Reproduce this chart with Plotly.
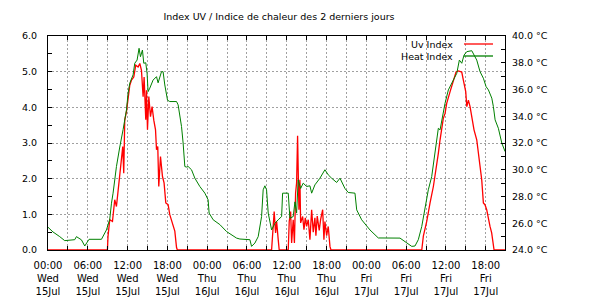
import plotly.graph_objects as go
import pandas as pd

start = "2015-07-15 00:00"
end_hours = 68.9

title_text = "Index UV / Indice de chaleur des 2 derniers jours"
uv_name = "Uv Index"
hi_name = "Heat Index"

# Heat index (deg C) : hours since start, values
hi_hours = [0.0, 0.75, 1.77, 2.52, 4.03, 4.29, 5.04, 5.54, 6.19, 8.06, 8.81, 9.31, 9.57, 9.81,
            10.32, 10.56, 10.82, 11.32, 11.83, 12.07, 12.33, 12.83, 13.08, 13.43, 13.73, 13.94,
            14.24, 14.44, 14.74, 14.94, 15.09, 15.35, 15.84, 16.36, 16.6, 17.11, 17.35, 17.61,
            18.02, 18.36, 19.38, 19.62, 19.87, 20.13, 20.37, 20.63, 20.88, 21.13, 21.64, 22.14,
            22.89, 23.65, 24.14, 24.29, 24.9, 25.91, 26.92, 27.67, 28.43, 28.93, 30.44, 30.69,
            31.19, 31.69, 32.2, 32.44, 32.7, 32.95, 33.2, 33.71, 34.21, 34.71, 35.22, 35.37,
            36.22, 36.47, 36.97, 37.23, 37.48, 37.72, 38.09, 38.48, 38.99, 39.49, 39.75, 40.24,
            41.0, 41.75, 42.25, 42.76, 43.52, 44.02, 44.77, 45.27, 46.28, 46.54, 47.29, 48.54,
            49.8, 53.07, 54.08, 54.84, 55.33, 55.83, 56.35, 56.84, 57.34, 57.85, 58.35, 58.85,
            59.11, 59.36, 59.86, 60.36, 60.87, 61.37, 61.63, 62.02, 62.38, 62.73, 63.14, 63.89,
            64.13, 64.64, 65.14, 65.64, 66.05, 66.4, 66.91, 67.15, 67.41, 67.9, 68.42, 68.91]
hi_values = [25.7, 25.35, 25.0, 24.7, 24.77, 25.0, 24.76, 24.3, 24.8, 24.8, 25.5, 26.3, 27.5, 28.25,
             30.24, 31.0, 31.7, 33.0, 34.47, 35.7, 36.47, 37.1, 37.96, 38.2, 39.08, 38.45,
             38.95, 37.96, 38.0, 37.2, 35.84, 36.1, 36.7, 36.96, 36.5, 37.33, 37.33, 36.34,
             35.2, 35.1, 35.1, 34.85, 34.1, 33.23, 32.0, 30.24, 30.2, 30.24, 30.0, 29.37,
             28.75, 28.25, 27.75, 26.76, 26.26, 25.9, 25.38, 25.14, 24.89, 24.82, 24.77, 24.27,
             24.52, 25.0, 26.5, 28.5, 28.8, 28.5, 26.76, 25.5, 26.0, 26.26, 26.5, 28.25,
             28.25, 26.38, 26.5, 27.6, 26.76, 29.25, 28.6, 29.0, 28.75, 28.8, 28.25, 28.87,
             29.37, 30.0, 29.62, 29.37, 29.05, 29.37, 28.6, 28.3, 28.25, 27.0, 26.26, 25.5,
             24.9, 24.89, 24.52, 24.27, 24.3, 24.77, 25.76, 27.0, 28.5, 29.49, 31.24, 33.1,
             32.98, 33.73, 34.97, 35.97, 36.47, 36.96, 37.21, 38.2, 37.96, 38.58, 38.83, 38.9,
             38.7, 38.2, 37.33, 36.84, 36.21, 35.97, 35.35, 34.72, 33.73, 33.1, 31.99, 31.36]

# UV index : hours since start, values
uv_hours = [0.0, 8.96, 9.05, 9.31, 9.72, 10.06, 10.32, 10.56, 10.82, 11.08, 11.27, 11.42, 11.57,
            11.83, 12.07, 12.33, 12.58, 12.93, 13.23, 13.58, 13.84, 14.09, 14.34, 14.49, 14.74,
            14.85, 15.0, 15.2, 15.45, 15.69, 15.95, 16.21, 16.36, 16.55, 16.7, 16.96, 17.26,
            17.5, 17.76, 18.11, 18.36, 18.77, 19.12, 19.38, 19.5,
            33.71, 33.95, 34.1, 34.31, 34.47, 34.71, 34.86, 36.22, 36.37, 36.58, 36.73, 36.97,
            37.15, 37.33, 37.48, 37.63, 37.72, 37.83, 37.98, 38.09, 38.39, 38.59, 38.79, 38.99,
            39.24, 39.49, 39.75, 39.99, 40.24, 40.39, 40.59, 40.89, 41.1, 41.41, 41.6, 41.75,
            42.01, 42.25, 42.51, 42.66,
            56.35, 56.59, 57.1, 57.34, 57.6, 58.1, 58.61, 58.85, 59.11, 59.36, 59.6, 59.86,
            60.11, 60.62, 61.12, 61.52, 61.87, 62.38, 62.62, 62.98, 63.14, 63.38, 63.63, 63.89,
            64.23, 64.64, 64.89, 65.14, 65.39, 65.64, 65.88, 66.14, 66.38, 66.64, 66.89, 67.15,
            67.25, 68.9]
uv_values = [0.0, 0.0, 0.39, 0.85, 0.8, 1.41, 1.22, 1.6, 2.06, 2.43, 2.9, 2.15, 3.64,
             3.88, 4.2, 4.62, 4.76, 4.85, 5.18, 5.13, 5.23, 5.04, 4.3, 4.85, 3.65,
             4.48, 3.37, 4.3, 3.74, 4.02, 3.64, 3.37, 2.81, 2.9, 1.78, 2.62, 2.06,
             1.88, 1.32, 1.27, 0.99, 0.76, 0.53, 0.07, 0.0,
             0.0, 0.66, 1.08, 0.48, 0.8, 0.29, 0.0, 0.0, 0.8, 1.08, 0.2, 0.85,
             0.2, 1.6, 1.88, 3.2, 2.43, 1.13, 1.97, 0.76, 0.94, 0.57, 0.9, 0.66,
             0.85, 0.29, 1.13, 0.5, 0.9, 0.4, 0.95, 0.55, 0.85, 1.13, 0.29, 0.8,
             0.4, 0.66, 0.1, 0.0,
             0.0, 0.39, 0.8, 1.08, 1.32, 1.78, 2.34, 2.71, 3.09, 3.37, 3.69, 3.83,
             4.11, 4.44, 4.76, 4.99, 5.02, 4.99, 4.76, 4.44, 4.02, 4.2, 4.02, 3.74,
             3.37, 3.09, 2.71, 2.34, 1.97, 1.32, 1.27, 1.13, 0.85, 0.66, 0.48, 0.07,
             0.0, 0.0]

t0 = pd.Timestamp(start)
hi_t = t0 + pd.to_timedelta(hi_hours, unit="h")
uv_t = t0 + pd.to_timedelta(uv_hours, unit="h")
t_end = t0 + pd.to_timedelta(end_hours, unit="h")

FONT = "DejaVu Sans"
FS = 9.5
RED = "#ff0000"
GREEN = "#008000"
GRID = "#a0a0a0"

fig = go.Figure()
fig.add_trace(go.Scatter(x=hi_t, y=hi_values, mode="lines", name=hi_name,
                         line=dict(color=GREEN, width=1), yaxis="y2", showlegend=False))
fig.add_trace(go.Scatter(x=uv_t, y=uv_values, mode="lines", name=uv_name,
                         line=dict(color=RED, width=1.3), yaxis="y", showlegend=False))

H = 3600000
fig.update_layout(
    width=610, height=300,
    margin=dict(l=48, r=105, t=36, b=50, autoexpand=False),
    paper_bgcolor="white", plot_bgcolor="white",
    font=dict(family=FONT, size=FS, color="black"),
    title=dict(text=title_text, x=279/610, xanchor="center", y=1-17/300, yanchor="middle",
               font=dict(family=FONT, size=FS, color="black")),
    xaxis=dict(type="date", range=[t0, t_end], tick0=t0, dtick=6*H, automargin=False,
               tickformat="%H:%M<br>%a<br>%d%b", ticks="inside", ticklen=4, tickcolor="black",
               tickfont=dict(family=FONT, size=10, color="black"),
               showline=True, linecolor="black", linewidth=1, mirror="ticks",
               showgrid=True, gridcolor=GRID, griddash="2px,2px", gridwidth=1,
               minor=dict(dtick=3*H, tick0=t0, ticks="inside", ticklen=4, tickcolor="black",
                          showgrid=True, gridcolor=GRID, griddash="2px,2px", gridwidth=1),
               layer="above traces", zeroline=False, ticklabelstandoff=6),
    yaxis=dict(range=[0, 6], dtick=1, tick0=0, tickformat=".1f", ticks="inside", ticklen=4,
               automargin=False,
               tickcolor="black", showline=True, linecolor="black", linewidth=1,
               showgrid=True, gridcolor=GRID, griddash="2px,2px", gridwidth=1,
               minor=dict(dtick=0.5, ticks="inside", ticklen=4, tickcolor="black", showgrid=False),
               zeroline=False, layer="above traces", ticklabelstandoff=8),
    yaxis2=dict(range=[24, 40], dtick=2, tick0=24, tickformat=".1f", ticksuffix=" °C",
                automargin=False,
                overlaying="y", side="right", ticks="inside", ticklen=4, tickcolor="black",
                showline=True, linecolor="black", linewidth=1, showgrid=False,
                minor=dict(dtick=1, ticks="inside", ticklen=4, tickcolor="black", showgrid=False),
                zeroline=False, layer="above traces", ticklabelstandoff=4),
)

# gnuplot-style key: label then line sample
def px_x(p):
    return (p - 48) / (505 - 48)

def px_y(p):
    return (250 - p) / (250 - 36)

for name, color, ypx in [(uv_name, RED, 44), (hi_name, GREEN, 56)]:
    fig.add_annotation(text=name, xref="paper", yref="paper", x=px_x(455), y=px_y(ypx),
                       xanchor="right", yanchor="middle", showarrow=False,
                       font=dict(family=FONT, size=FS, color="black"))
    fig.add_shape(type="line", xref="paper", yref="paper", x0=px_x(464), x1=px_x(493),
                  y0=px_y(ypx), y1=px_y(ypx), line=dict(color=color, width=1.3))

fig.write_html("out.html")
